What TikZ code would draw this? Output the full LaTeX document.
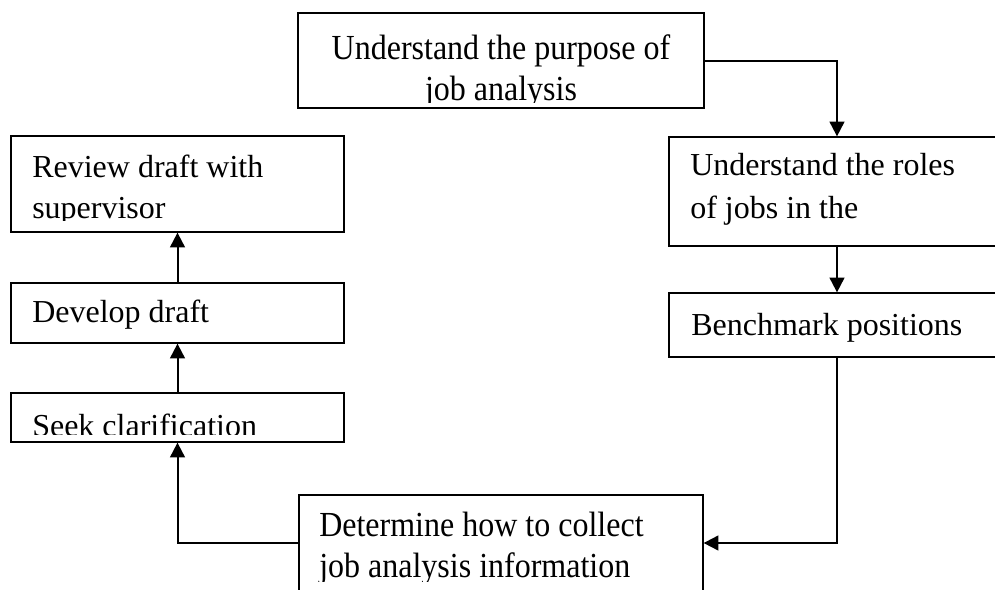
\documentclass[tikz,border=0pt]{standalone}
\usepackage{fontspec}
\setmainfont{Liberation Serif}[Ligatures=CommonOff]
\usetikzlibrary{arrows.meta,fit}
\newcommand\tallrow[2]{\scalebox{1}[#1]{#2}}
\begin{document}
\begin{tikzpicture}[x=0.75pt,y=-0.75pt,
  box/.style={draw, line width=0.95pt, inner sep=0pt},
  lbl/.style={anchor=base west, inner sep=0pt, font=\fontsize{24}{24}\selectfont},
  clbl/.style={anchor=base, inner sep=0pt, font=\fontsize{24}{24}\selectfont},
  flow/.style={line width=1.5pt, -{Triangle[length=11pt,width=11pt]}}]
\clip (0,0) rectangle (995,589);

% process boxes
\node[box, fit={(298,13) (704,108)}] (purpose) {};
\node[box, fit={(669,137) (1005,246)}] (roles) {};
\node[box, fit={(669,293) (1005,357)}] (bench) {};
\node[box, fit={(299,495) (703,591)}] (collect) {};
\node[box, fit={(11,136) (344,232)}] (review) {};
\node[box, fit={(11,283) (344,343)}] (develop) {};
\node[box, fit={(11,393) (344,442)}] (seek) {};

% box texts
\begin{scope}
  \clip (298,13) rectangle (704,102);
  \node[clbl] (purposeA) at (501,59) {\tallrow{1.1}{Understand the purpose of}};
  \node[clbl] (purposeB) at (501,100) {\tallrow{1.1}{job analysis}};
\end{scope}
\node[lbl] (rolesA) at (690,175) {Understand the roles};
\node[lbl] (rolesB) at (690,218) {of jobs in the};
\node[lbl] (benchA) at (691,335) {Benchmark positions};
\begin{scope}
  \clip (299,495) rectangle (703,581);
  \node[lbl] (collectA) at (319,536) {\tallrow{1.1}{Determine how to collect}};
  \node[lbl] (collectB) at (319,577) {\tallrow{1.1}{job analysis information}};
\end{scope}
\begin{scope}
  \clip (11,136) rectangle (344,220);
  \node[lbl] (reviewA) at (32,177) {Review draft with};
  \node[lbl] (reviewB) at (32,218) {supervisor};
\end{scope}
\node[lbl] (developA) at (32,322) {Develop draft};
\begin{scope}
  \clip (11,393) rectangle (344,434);
  \node[lbl] (seekA) at (32,436) {Seek clarification};
\end{scope}

% flow connectors
\draw[flow] (purpose.east) -| (roles.north);
\draw[flow] (roles.south) -- (bench.north);
\draw[flow] (bench.south) |- (collect.east);
\draw[flow] (collect.west) -| (seek.south);
\draw[flow] (seek.north) -- (develop.south);
\draw[flow] (develop.north) -- (review.south);
\end{tikzpicture}
\end{document}
